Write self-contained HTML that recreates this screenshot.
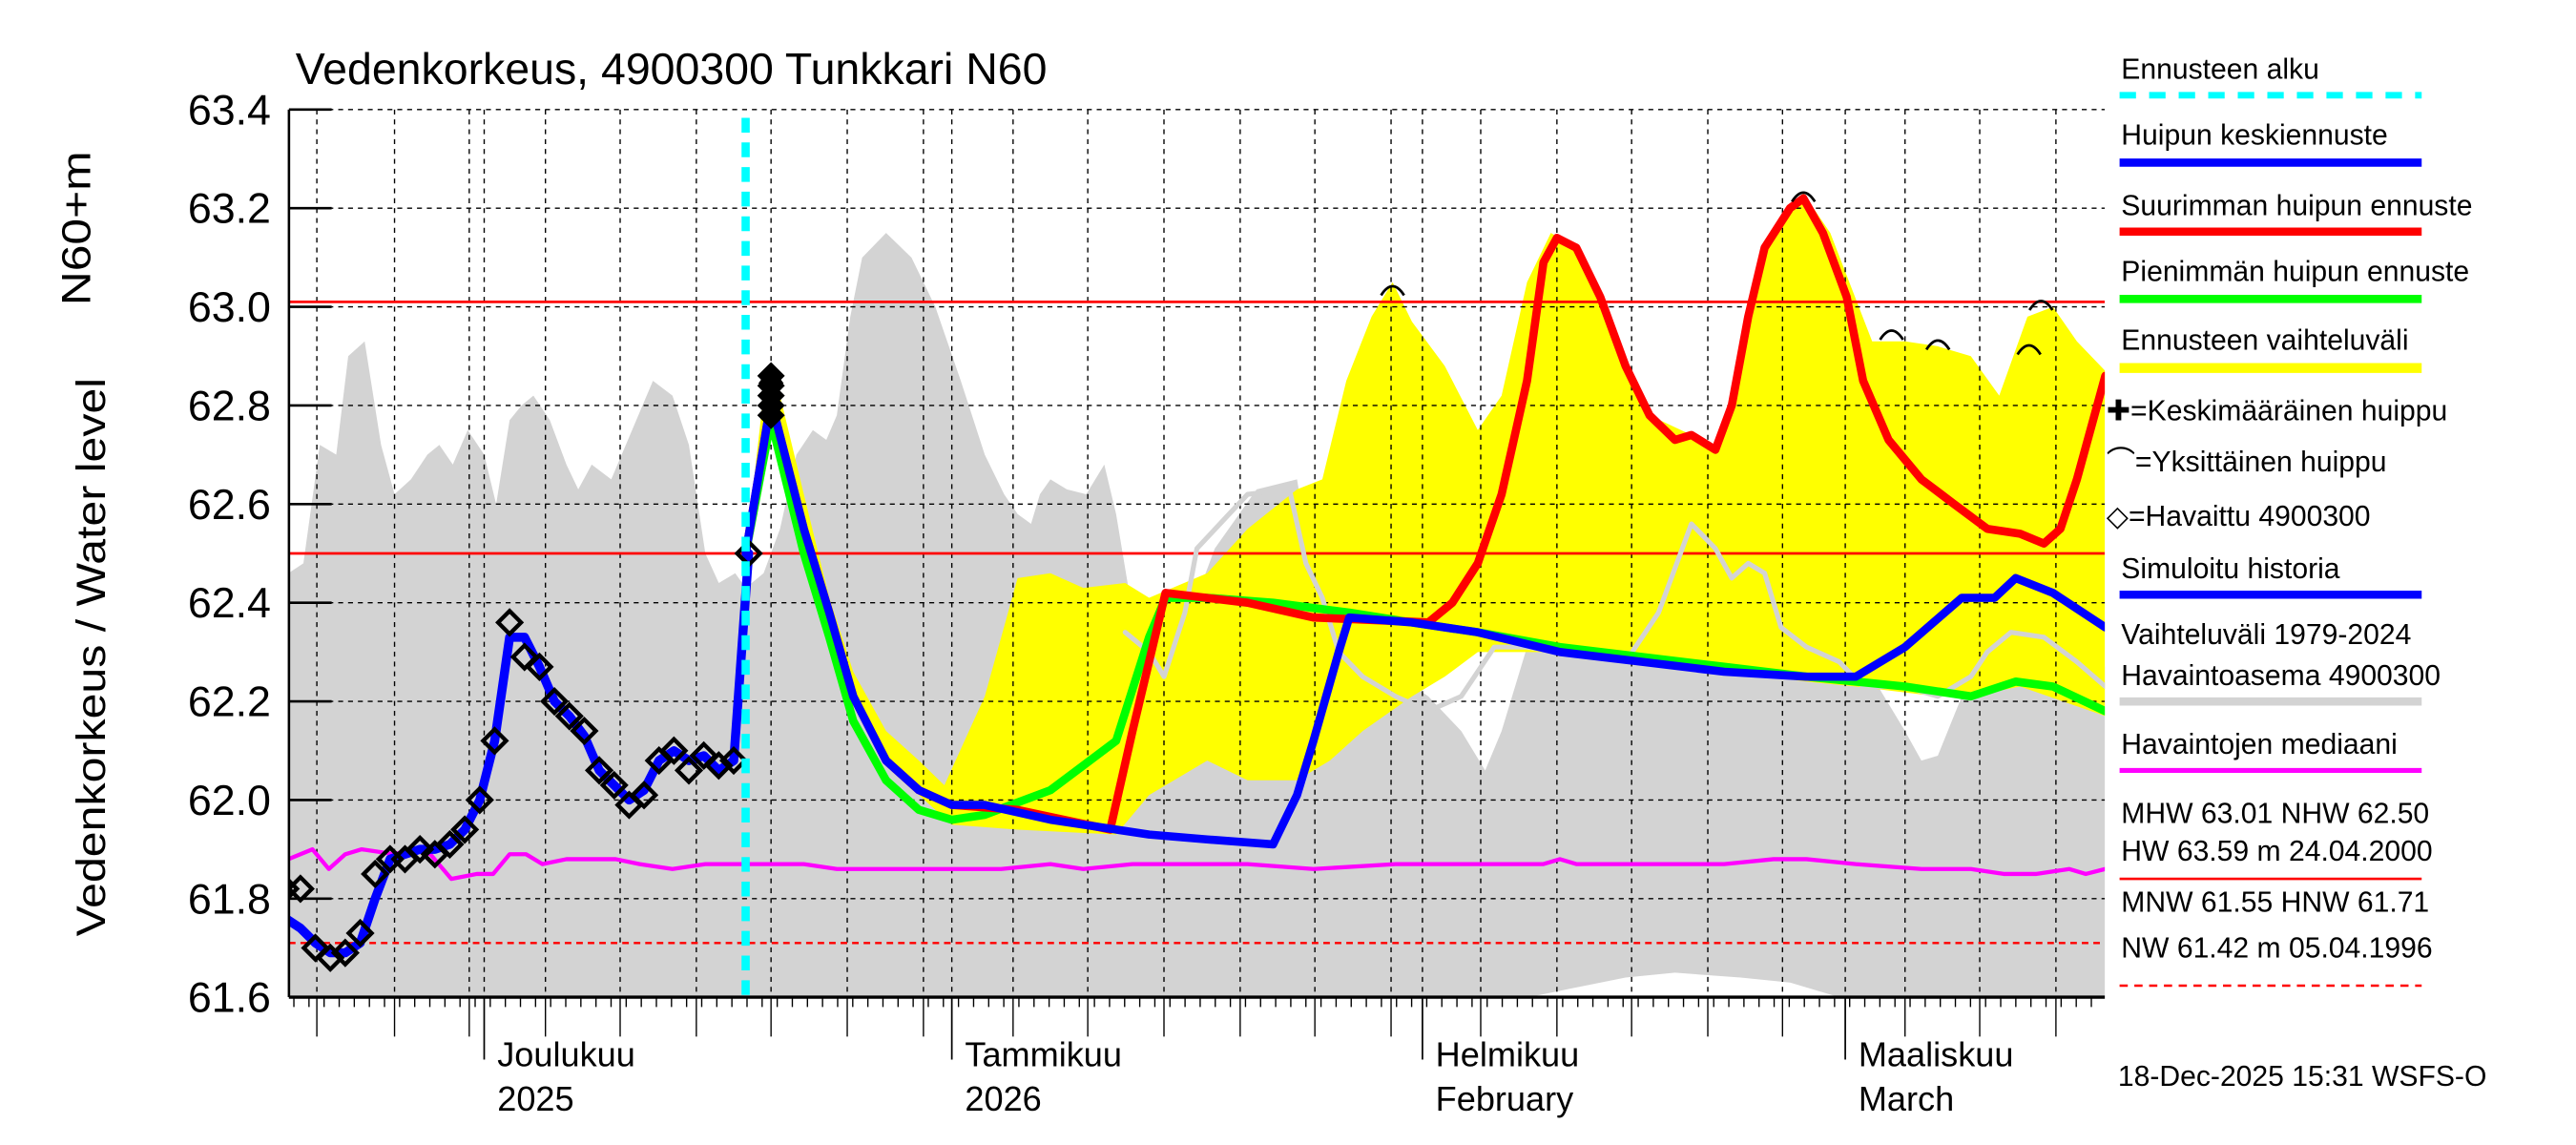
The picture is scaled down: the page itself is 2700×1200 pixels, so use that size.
<!DOCTYPE html>
<html><head><meta charset="utf-8"><style>
html,body{margin:0;padding:0;background:#fff;}
svg{display:block;font-family:"Liberation Sans",Arial,sans-serif;}
</style></head><body>
<svg id="chart" width="2700" height="1200" viewBox="0 0 1569 697" preserveAspectRatio="none" xmlns="http://www.w3.org/2000/svg">
<rect x="0" y="0" width="1569" height="697" fill="#fff"/>
<g id="plot"></g>
<text x="180" y="51" font-size="27">Vedenkorkeus, 4900300 Tunkkari N60</text>
<text transform="translate(64,570) rotate(-90)" font-size="25" textLength="340" lengthAdjust="spacingAndGlyphs">Vedenkorkeus / Water level</text>
<text transform="translate(55,186) rotate(-90)" font-size="25" textLength="94" lengthAdjust="spacingAndGlyphs">N60+m</text>
<g id="yticks"></g>
<g id="xticks"></g>
<g id="legend" font-size="17.5">
 <text x="1292" y="48">Ennusteen alku</text>
 <line x1="1291" y1="58" x2="1475" y2="58" stroke="#00ffff" stroke-width="4" stroke-dasharray="10,8"/>
 <text x="1292" y="88">Huipun keskiennuste</text>
 <line x1="1291" y1="99" x2="1475" y2="99" stroke="#0000ff" stroke-width="5"/>
 <text x="1292" y="131">Suurimman huipun ennuste</text>
 <line x1="1291" y1="141" x2="1475" y2="141" stroke="#ff0000" stroke-width="5"/>
 <text x="1292" y="171">Pienimmän huipun ennuste</text>
 <line x1="1291" y1="182" x2="1475" y2="182" stroke="#00ff00" stroke-width="5"/>
 <text x="1292" y="213">Ennusteen vaihteluväli</text>
 <line x1="1291" y1="224" x2="1475" y2="224" stroke="#ffff00" stroke-width="6"/>
 <text x="1283" y="256">✚=Keskimääräinen huippu</text>
 <text x="1283" y="287">⌒=Yksittäinen huippu</text>
 <text x="1283" y="320">◇=Havaittu 4900300</text>
 <text x="1292" y="352">Simuloitu historia</text>
 <line x1="1291" y1="362" x2="1475" y2="362" stroke="#0000ff" stroke-width="5"/>
 <text x="1292" y="392">Vaihteluväli 1979-2024</text>
 <text x="1292" y="417">Havaintoasema 4900300</text>
 <line x1="1291" y1="427" x2="1475" y2="427" stroke="#d3d3d3" stroke-width="5"/>
 <text x="1292" y="459">Havaintojen mediaani</text>
 <line x1="1291" y1="469" x2="1475" y2="469" stroke="#ff00ff" stroke-width="3"/>
 <text x="1292" y="501">MHW  63.01 NHW  62.50</text>
 <text x="1292" y="524">HW  63.59 m 24.04.2000</text>
 <line x1="1291" y1="535" x2="1475" y2="535" stroke="#ff0000" stroke-width="1.5"/>
 <text x="1292" y="555">MNW  61.55 HNW  61.71</text>
 <text x="1292" y="583">NW  61.42 m 05.04.1996</text>
 <line x1="1291" y1="600" x2="1475" y2="600" stroke="#ff0000" stroke-width="1.5" stroke-dasharray="5,4"/>
 <text x="1290" y="661">18-Dec-2025 15:31 WSFS-O</text>
</g>
</svg>
<script>
// ---- data (days ~ since 1 Dec 2025, values in N60+m) ----
const monthTickDays=[0.1,31.4,62.9,91.2];
const monthLabels1=["Joulukuu","Tammikuu","Helmikuu","Maaliskuu"];
const monthLabels2=["2025","2026","February","March"];
const gridDays=[-11.1,-5.9,-0.9,4.2,9.2,14.3,19.3,24.4,29.5,35.5,40.5,45.6,50.7,55.7,60.8,66.8,71.9,76.9,82.0,87.0,95.2,100.2,105.3];
const yTicks=[61.6,61.8,62.0,62.2,62.4,62.6,62.8,63.0,63.2,63.4];
const refHigh=[63.01,62.50];
const refLow=[61.71];
const forecastStartDay=17.6;

const obsStart=-13.2;
const observed=[61.82,61.82,61.70,61.68,61.69,61.73,61.85,61.88,61.88,61.90,61.89,61.91,61.94,62.00,62.12,62.36,62.29,62.27,62.20,62.17,62.14,62.06,62.03,61.99,62.01,62.08,62.10,62.06,62.09,62.07,62.08,62.50];
const simHistory=[61.76,61.74,61.71,61.69,61.69,61.71,61.80,61.88,61.89,61.90,61.90,61.91,61.94,62.00,62.12,62.33,62.33,62.27,62.20,62.17,62.13,62.06,62.03,62.00,62.02,62.08,62.10,62.08,62.09,62.06,62.08,62.50];

const blueDays=[17.6,19.3,21.5,23.2,24.8,27.0,29.2,31.4,33.6,38.0,44.6,48.5,52.9,54.5,55.6,57.3,58.0,62.2,66.6,72.1,77.6,83.1,88.6,91.9,95.2,99.0,101.2,102.6,105.1,108.6];
const blueVals=[62.50,62.81,62.55,62.38,62.21,62.08,62.02,61.99,61.99,61.96,61.93,61.92,61.91,62.01,62.12,62.30,62.37,62.36,62.34,62.30,62.28,62.26,62.25,62.25,62.31,62.41,62.41,62.45,62.42,62.35];

const greenDays=[17.6,19.3,21.5,23.2,24.8,27.0,29.2,31.4,33.6,38.0,42.4,44.6,45.7,48.5,52.9,58.0,62.2,66.6,72.1,77.6,83.1,88.6,91.9,95.2,99.6,102.6,105.1,108.6];
const greenVals=[62.50,62.77,62.50,62.33,62.16,62.04,61.98,61.96,61.97,62.02,62.12,62.33,62.41,62.41,62.40,62.38,62.36,62.34,62.31,62.29,62.27,62.25,62.24,62.23,62.21,62.24,62.23,62.18];

const redDays=[17.6,19.3,21.5,23.2,24.8,27.0,29.2,31.4,35.8,42.0,43.5,45.7,51.2,55.6,63.3,64.9,66.6,68.2,69.9,71.0,71.9,73.2,74.8,76.5,78.1,79.8,80.9,82.5,83.6,84.7,85.8,87.5,88.4,89.7,91.3,92.4,94.1,96.3,98.5,100.7,102.9,104.5,105.6,106.7,108.6];
const redVals=[62.50,62.81,62.55,62.38,62.21,62.08,62.02,61.99,61.98,61.94,62.14,62.42,62.40,62.37,62.36,62.40,62.48,62.62,62.85,63.09,63.14,63.12,63.02,62.88,62.78,62.73,62.74,62.71,62.80,62.98,63.12,63.20,63.22,63.15,63.02,62.85,62.73,62.65,62.60,62.55,62.54,62.52,62.55,62.65,62.86];

const yelUpDays=[17.6,18.9,19.9,21.5,23.2,24.8,27.0,29.2,30.9,33.6,35.8,38.0,40.2,43.0,44.6,48.5,51.2,54.5,56.2,57.8,59.5,60.9,62.2,64.4,66.6,68.2,69.9,71.5,73.2,74.8,76.5,78.1,80.9,82.5,83.6,84.7,85.8,88.4,90.2,93.0,95.2,97.4,99.6,101.5,103.4,105.1,106.7,108.6];
const yelUp=[62.50,62.85,62.82,62.62,62.41,62.26,62.14,62.08,62.03,62.21,62.45,62.46,62.43,62.44,62.41,62.46,62.55,62.63,62.65,62.85,62.98,63.05,62.97,62.88,62.75,62.82,63.05,63.15,63.12,63.02,62.88,62.78,62.74,62.71,62.80,62.98,63.12,63.23,63.15,62.93,62.93,62.92,62.90,62.82,62.98,63.00,62.93,62.87];
const yelLowDays=[17.6,19.3,21.5,23.7,25.9,29.2,31.4,35.8,42.4,44.6,48.5,51.2,54.5,56.7,58.9,62.2,64.4,66.6,72.1,77.6,88.6,91.9,97.4,99.6,102.9,108.6];
const yelLow=[62.50,62.78,62.50,62.28,62.13,62.01,61.95,61.94,61.93,62.01,62.08,62.04,62.04,62.08,62.14,62.21,62.25,62.30,62.30,62.28,62.24,62.23,62.21,62.21,62.23,62.17];

const greyUpDays=[-13.0,-12.0,-10.9,-9.8,-9.0,-7.9,-6.8,-5.9,-4.8,-3.7,-2.9,-2.0,-1.0,0.1,0.9,1.8,2.6,3.4,4.5,5.6,6.4,7.3,8.6,10.0,11.4,12.7,13.8,14.9,15.8,16.9,17.6,18.8,19.9,21.0,22.1,23.0,23.7,24.6,25.4,27.0,28.7,30.3,32.0,33.6,34.9,35.8,36.7,37.3,38.0,39.1,40.4,41.6,42.4,43.5,44.6,46.8,49.0,51.8,54.5,55.6,57.8,60.0,63.3,65.5,67.1,68.2,69.9,71.5,73.2,76.5,78.7,80.9,83.1,86.4,90.8,93.0,95.2,96.3,97.4,99.0,100.1,101.2,102.9,105.1,108.6];
const greyUp=[62.46,62.48,62.72,62.70,62.90,62.93,62.72,62.62,62.65,62.70,62.72,62.68,62.75,62.70,62.60,62.77,62.80,62.82,62.77,62.68,62.63,62.68,62.65,62.75,62.85,62.82,62.72,62.50,62.44,62.46,62.43,62.46,62.55,62.70,62.75,62.73,62.78,62.98,63.10,63.15,63.10,63.00,62.85,62.70,62.62,62.58,62.56,62.62,62.65,62.63,62.62,62.68,62.58,62.38,62.28,62.33,62.51,62.63,62.65,62.45,62.35,62.28,62.21,62.14,62.06,62.14,62.31,62.30,62.31,62.31,62.35,62.38,62.35,62.31,62.30,62.25,62.14,62.08,62.09,62.21,62.28,62.33,62.34,62.32,62.27];
const greyLowDays=[-13,70,73.2,76.5,79.8,84.2,87.5,89.7,90.8,108.6];
const greyLow=[61.6,61.6,61.62,61.64,61.65,61.64,61.63,61.61,61.6,61.6];

const stationDays=[43.0,44.6,45.6,47.0,47.8,51.2,54.0,55.1,56.2,57.3,58.9,61.1,63.3,65.5,67.7,69.9,76.5,78.7,80.9,82.5,83.6,84.7,85.8,86.9,88.6,90.8,92.4,95.2,97.4,99.6,100.7,102.3,104.5,106.7,108.6];
const stationVals=[62.34,62.30,62.25,62.38,62.51,62.62,62.63,62.48,62.41,62.30,62.25,62.21,62.18,62.21,62.31,62.31,62.28,62.38,62.56,62.51,62.45,62.48,62.46,62.35,62.31,62.28,62.23,62.23,62.21,62.25,62.30,62.34,62.33,62.28,62.23];

const medianDays=[-13.0,-11.4,-10.3,-9.2,-8.1,-5.9,-4.8,-3.5,-2.1,-0.4,0.7,1.8,2.9,4.0,5.6,7.3,8.9,10.5,12.7,14.9,17.1,18.2,19.9,21.5,23.7,29.2,34.7,38.0,40.2,43.5,51.2,55.6,61.1,66.6,71.0,72.1,73.2,83.1,86.4,87.5,88.6,91.9,96.3,99.6,101.8,104.0,106.2,107.3,108.6];
const medianVals=[61.88,61.90,61.86,61.89,61.90,61.89,61.90,61.89,61.84,61.85,61.85,61.89,61.89,61.87,61.88,61.88,61.88,61.87,61.86,61.87,61.87,61.87,61.87,61.87,61.86,61.86,61.86,61.87,61.86,61.87,61.87,61.86,61.87,61.87,61.87,61.88,61.87,61.87,61.88,61.88,61.88,61.87,61.86,61.86,61.85,61.85,61.86,61.85,61.86];

const peakDays=[19.3,60.9,88.4,94.3,97.4,103.5,104.3];
const peakVals=[62.86,63.04,63.23,62.95,62.93,62.92,63.01];
const peakClusterVals=[62.86,62.84,62.82,62.80,62.78];

// ---- scales ----
const X0=176,X1=1282,Y0=66.7,Y1=607;
function xs(d){return 294+9.1*d;}
function ys(v){return Y0+(63.4-v)*300.2;}
const NS="http://www.w3.org/2000/svg";
const plot=document.getElementById('plot');
function el(tag,attrs,parent){const e=document.createElementNS(NS,tag);for(const k in attrs)e.setAttribute(k,attrs[k]);(parent||plot).appendChild(e);return e;}
function pts(days,vals){return days.map((d,i)=>xs(d).toFixed(1)+","+ys(vals[i]).toFixed(1)).join(" ");}

const defs=el('defs',{});
const cp=el('clipPath',{id:'clip'},defs);
el('rect',{x:X0,y:Y0-2,width:X1-X0,height:Y1-Y0+2},cp);
const g=el('g',{'clip-path':'url(#clip)'});

let p=el('polygon',{points:pts(greyUpDays,greyUp)+" "+pts(greyLowDays.slice().reverse(),greyLow.slice().reverse()),fill:'#d3d3d3'},g);


p=el('polygon',{points:pts(yelUpDays,yelUp)+" "+pts(yelLowDays.slice().reverse(),yelLow.slice().reverse()),fill:'#ffff00'},g);



yTicks.forEach(v=>{const l=el('line',{x1:X0,x2:X1,y1:ys(v),y2:ys(v),stroke:'#000','stroke-width':0.8,'stroke-dasharray':'3,3'},g);
 
 });
gridDays.forEach(d=>{const l=el('line',{x1:xs(d),x2:xs(d),y1:Y0,y2:Y1,stroke:'#000','stroke-width':0.8,'stroke-dasharray':'3,3'},g);
 
 });
monthTickDays.forEach(d=>{const l=el('line',{x1:xs(d),x2:xs(d),y1:Y0,y2:Y1,stroke:'#000','stroke-width':0.8,'stroke-dasharray':'3,3'},g);
 
 });

refHigh.forEach(v=>{const l=el('line',{x1:X0,x2:X1,y1:ys(v),y2:ys(v),stroke:'#ff0000','stroke-width':1.6},g);
 
 });
refLow.forEach(v=>{const l=el('line',{x1:X0,x2:X1,y1:ys(v),y2:ys(v),stroke:'#ff0000','stroke-width':1.4,'stroke-dasharray':'4,3'},g);
 
 });

function line(days,vals,color,w,name){const e=el('polyline',{points:pts(days,vals),fill:'none',stroke:color,'stroke-width':w,'stroke-linejoin':'round','stroke-linecap':'round'},g);
 
 return e;}
line(stationDays,stationVals,'#d3d3d3',3,'station-line');
line(medianDays,medianVals,'#ff00ff',2.5,'median-line');
line(greenDays,greenVals,'#00ff00',5,'min-peak-forecast-line');
line(redDays,redVals,'#ff0000',5,'max-peak-forecast-line');
const obsDays=observed.map((v,i)=>obsStart+i);
line(obsDays,simHistory,'#0000ff',5.5,'simulated-history-line');
line(blueDays,blueVals,'#0000ff',5,'mean-peak-forecast-line');

observed.forEach((v,i)=>{const cx=xs(obsDays[i]),cy=ys(v);
 const d=el('polygon',{points:`${cx},${cy-7} ${cx+7},${cy} ${cx},${cy+7} ${cx-7},${cy}`,fill:'none',stroke:'#000','stroke-width':2.5},g);
 
 });
peakClusterVals.forEach(v=>{const cx=xs(peakDays[0]),cy=ys(v);
 const d=el('polygon',{points:`${cx},${cy-7} ${cx+7},${cy} ${cx},${cy+7} ${cx-7},${cy}`,fill:'#000',stroke:'#000','stroke-width':2},g);
 
 });

const fl=el('line',{x1:xs(forecastStartDay),x2:xs(forecastStartDay),y1:Y0+5,y2:Y1,stroke:'#00ffff','stroke-width':5,'stroke-dasharray':'9,6'},g);



peakDays.forEach((d,i)=>{const cx=xs(d),cy=ys(peakVals[i]);
 const a=el('path',{d:`M${cx-7},${cy+5} Q${cx},${cy-6} ${cx+7},${cy+5}`,fill:'none',stroke:'#000','stroke-width':1.6},g);
 
 });

const ax=document.getElementById('yticks');
el('line',{x1:X0,x2:X0,y1:Y0,y2:Y1,stroke:'#000','stroke-width':1.5},ax);
yTicks.forEach(v=>{el('line',{x1:X0,x2:X0+26,y1:ys(v),y2:ys(v),stroke:'#000','stroke-width':1.5},ax);
 const t=el('text',{x:165,y:ys(v)+9,'font-size':26,'text-anchor':'end'},ax);
 t.textContent=v.toFixed(1);
 
 });
const xa=document.getElementById('xticks');
el('line',{x1:X0,x2:X1,y1:Y1,y2:Y1,stroke:'#000','stroke-width':2},xa);
for(let x=X0+3;x<X1;x+=9.2){el('line',{x1:x,x2:x,y1:Y1,y2:Y1+6,stroke:'#000','stroke-width':0.8},xa);}
gridDays.forEach(d=>{el('line',{x1:xs(d),x2:xs(d),y1:Y1,y2:Y1+24,stroke:'#000','stroke-width':0.8},xa);});
monthTickDays.forEach((d,i)=>{el('line',{x1:xs(d),x2:xs(d),y1:Y1,y2:Y1+38,stroke:'#000','stroke-width':1},xa);
 const t1=el('text',{x:xs(d)+8,y:649,'font-size':21},xa);
 t1.textContent=monthLabels1[i];
 
 
 const t2=el('text',{x:xs(d)+8,y:676,'font-size':21},xa);
 t2.textContent=monthLabels2[i];
 
 });
</script>
</body></html>
